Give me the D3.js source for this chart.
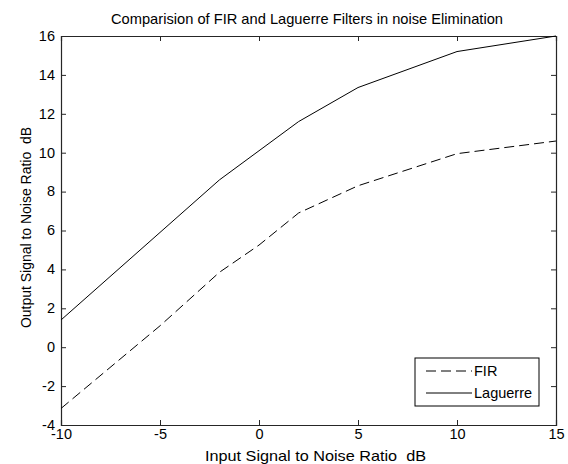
<!DOCTYPE html>
<html>
<head>
<meta charset="utf-8">
<script src="https://d3js.org/d3.v7.min.js"></script>
<style>
  body { margin: 0; background: #fff; }
  text { font-family: "Liberation Sans", Arial, sans-serif; fill: #000; white-space: pre; }
</style>
</head>
<body>
<div id="chart"></div>
<script>
// Data
const snrIn = [-10, -5, -2, 0, 2, 5, 10, 15];
const firOut = [-3.15, 1.1, 3.85, 5.25, 6.9, 8.3, 9.95, 10.6];
const laguerreOut = [1.4, 5.9, 8.6, 10.1, 11.6, 13.35, 15.2, 16.0];
const xTicks = [-10, -5, 0, 5, 10, 15];
const yTicks = [-4, -2, 0, 2, 4, 6, 8, 10, 12, 14, 16];
const seriesNames = ["FIR", "Laguerre"];

const W = 568, H = 464;
const margin = { top: 36, right: 12, bottom: 39, left: 61 };
const width = W - margin.left - margin.right,
    height = H - margin.top - margin.bottom;

const svg = d3.select("#chart")
    .append("svg")
    .attr("width", W)
    .attr("height", H);

const g = svg.append("g")
    .attr("transform", `translate(${margin.left},${margin.top})`);

const x = d3.scaleLinear().domain([-10, 15]).range([0, width]);
const y = d3.scaleLinear().domain([-4, 16]).range([height, 0]);

// Axes with inward ticks, mirrored on top/right like MATLAB
const tick = 5;
const axisColor = "#262626";
const plain = d => String(d);   // keep the hyphen-minus of the original

const xAxis = g.append("g")
    .attr("transform", `translate(0,${height})`)
    .call(d3.axisBottom(x).tickValues(xTicks).tickSize(-tick).tickPadding(4).tickFormat(plain));
const yAxis = g.append("g")
    .call(d3.axisLeft(y).tickValues(yTicks).tickSize(-tick).tickPadding(6).tickFormat(plain));
const xTop = g.append("g")
    .call(d3.axisTop(x).tickValues(xTicks).tickSize(-tick).tickFormat(""));
const yRight = g.append("g")
    .attr("transform", `translate(${width},0)`)
    .call(d3.axisRight(y).tickValues(yTicks).tickSize(-tick).tickFormat(""));

[xAxis, yAxis, xTop, yRight].forEach(a => {
    a.select(".domain").attr("stroke", axisColor).attr("stroke-width", 1.2);
    a.selectAll(".tick line").attr("stroke", axisColor);
    a.selectAll("text")
        .style("font-family", '"Liberation Sans", Arial, sans-serif')
        .style("font-size", "14.5px")
        .attr("fill", "#000");
});
yAxis.selectAll("text").attr("dy", "0.3em");

// Lines
const line = d3.line()
    .x(d => x(d[0]))
    .y(d => y(d[1]));

g.append("path")
    .datum(d3.zip(snrIn, firOut))
    .attr("fill", "none")
    .attr("stroke", "#000")
    .attr("stroke-width", 1)
    .attr("stroke-dasharray", "10,5")
    .attr("d", line);

g.append("path")
    .datum(d3.zip(snrIn, laguerreOut))
    .attr("fill", "none")
    .attr("stroke", "#000")
    .attr("stroke-width", 1)
    .attr("d", line);

// Title and axis labels
svg.append("text")
    .attr("x", 307)
    .attr("y", 24)
    .attr("text-anchor", "middle")
    .style("font-size", "14.5px")
    .attr("textLength", 392)
    .attr("lengthAdjust", "spacingAndGlyphs")
    .text("Comparision of FIR and Laguerre Filters in noise Elimination");

svg.append("text")
    .attr("x", 315.5)
    .attr("y", 461)
    .attr("text-anchor", "middle")
    .style("font-size", "14.5px")
    .attr("textLength", 221)
    .attr("lengthAdjust", "spacingAndGlyphs")
    .text("Input Signal to Noise Ratio  dB");

svg.append("text")
    .attr("transform", "translate(31,227.5) rotate(-90)")
    .attr("text-anchor", "middle")
    .style("font-size", "14.5px")
    .attr("textLength", 201)
    .attr("lengthAdjust", "spacingAndGlyphs")
    .text("Output Signal to Noise Ratio  dB");

// Legend
const legend = svg.append("g")
    .attr("transform", "translate(415,358)");

legend.append("rect")
    .attr("width", 124)
    .attr("height", 48)
    .attr("fill", "#fff")
    .attr("stroke", "#000")
    .attr("stroke-width", 1);

const rows = legend.selectAll(".row")
    .data(seriesNames)
    .enter()
    .append("g")
    .attr("class", "row")
    .attr("transform", (d, i) => `translate(0,${13 + i * 22})`);

rows.append("line")
    .attr("x1", 11)
    .attr("x2", 57)
    .attr("stroke", "#000")
    .attr("stroke-width", 1)
    .attr("stroke-dasharray", (d, i) => i === 0 ? "10,5" : null);

rows.append("text")
    .attr("x", 59)
    .attr("dy", "0.36em")
    .style("font-size", "14.5px")
    .text(d => d);
</script>
</body>
</html>
